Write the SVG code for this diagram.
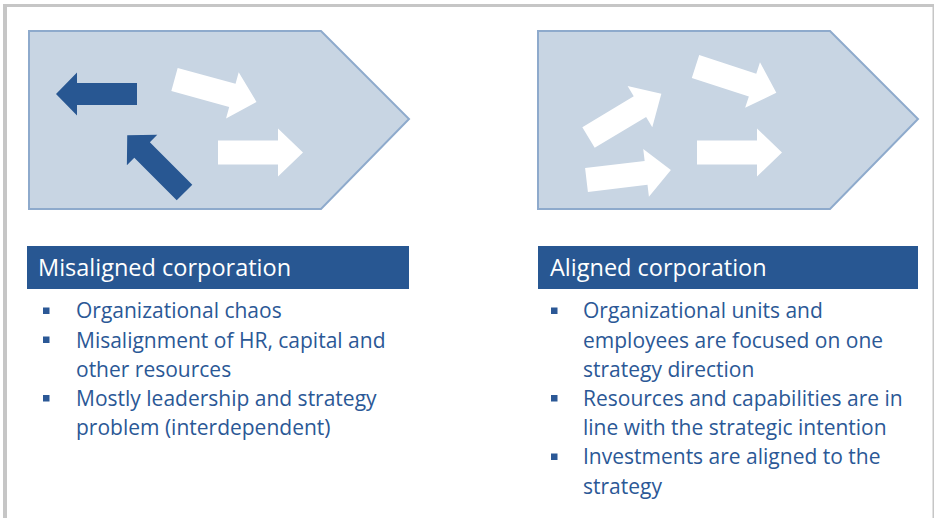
<svg xmlns="http://www.w3.org/2000/svg" width="935" height="518" viewBox="0 0 935 518">
<style>
.frame{fill:#c6c6c6}
.chev{fill:#c8d5e3;stroke:#8eaacc;stroke-width:2;stroke-linejoin:miter}
.wa{fill:#ffffff}
.da{fill:#285792}
.hdr{fill:#285792}
.ht{font-family:"Open Sans",Lato,sans-serif;font-size:23.5px;fill:#ffffff}
.bt{font-family:"Open Sans",Lato,sans-serif;font-size:21px;fill:#2b5896}
.bul{fill:#2b5896}
</style>
<defs>
<path id="warrow" d="M0,-12 H60 V-24 L85,0 L60,24 V12 H0 Z"/>
<path id="darrow" d="M0,-11 H60 V-21.5 L81,0 L60,21.5 V11 H0 Z"/>
</defs>
<rect width="935" height="518" fill="#ffffff"/>
<g id="frame">
<rect class="frame" x="3" y="4" width="931" height="3"/>
<rect class="frame" x="3" y="4" width="4" height="514"/>
<rect class="frame" x="932.5" y="4" width="1.5" height="514"/>
</g>
<g id="misaligned-shape">
<path class="chev" d="M29,31 H321 L409,119 L321,209 H29 Z"/>
<use href="#darrow" class="da" transform="translate(137,94) rotate(180)"/>
<use href="#darrow" class="da" transform="translate(184.5,192.5) rotate(225)"/>
<use href="#warrow" class="wa" transform="translate(174.5,79.5) rotate(15.3)"/>
<use href="#warrow" class="wa" transform="translate(218,152.5)"/>
</g>
<g id="aligned-shape">
<path class="chev" d="M538,31 H830 L918,119 L830,209 H538 Z"/>
<use href="#warrow" class="wa" transform="translate(588.5,137.5) rotate(-31)"/>
<use href="#warrow" class="wa" transform="translate(695.5,66.5) rotate(18)"/>
<use href="#warrow" class="wa" transform="translate(697,152.5)"/>
<use href="#warrow" class="wa" transform="translate(586.5,180) rotate(-6.8)"/>
</g>
<g id="misaligned-text">
<rect class="hdr" x="27" y="246" width="382" height="43"/>
<text class="ht" x="38" y="276">Misaligned corporation</text>
<rect class="bul" x="43" y="307.5" width="6.5" height="6.5"/>
<rect class="bul" x="43" y="336.5" width="6.5" height="6.5"/>
<rect class="bul" x="43" y="395" width="6.5" height="6.5"/>
<text class="bt" x="76" y="318.3">Organizational chaos</text>
<text class="bt" x="76" y="347.5">Misalignment of HR, capital and</text>
<text class="bt" x="76" y="376.7">other resources</text>
<text class="bt" x="76" y="405.9">Mostly leadership and strategy</text>
<text class="bt" x="76" y="435.1">problem (interdependent)</text>
</g>
<g id="aligned-text">
<rect class="hdr" x="538" y="246" width="380" height="43"/>
<text class="ht" x="550" y="276">Aligned corporation</text>
<rect class="bul" x="551" y="307.5" width="6.5" height="6.5"/>
<rect class="bul" x="551" y="395" width="6.5" height="6.5"/>
<rect class="bul" x="551" y="453.5" width="6.5" height="6.5"/>
<text class="bt" x="583" y="318.3">Organizational units and</text>
<text class="bt" x="583" y="347.5">employees are focused on one</text>
<text class="bt" x="583" y="376.7">strategy direction</text>
<text class="bt" x="583" y="405.9">Resources and capabilities are in</text>
<text class="bt" x="583" y="435.1">line with the strategic intention</text>
<text class="bt" x="583" y="464.3">Investments are aligned to the</text>
<text class="bt" x="583" y="493.5">strategy</text>
</g>
</svg>
